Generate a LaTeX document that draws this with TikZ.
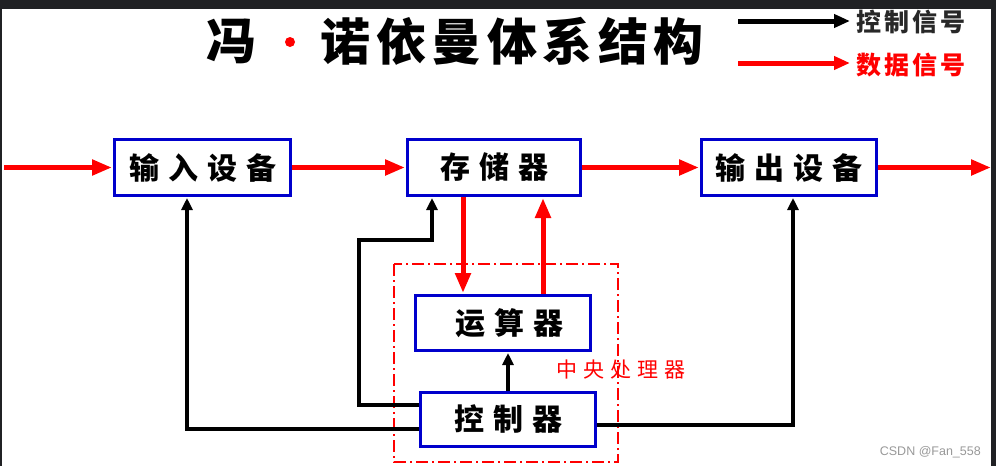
\documentclass[tikz,border=0pt]{standalone}
\usepackage{fontspec}
\setmainfont{Noto Sans CJK SC}
\newfontfamily\wmfont{Liberation Sans}
\usetikzlibrary{arrows.meta,calc}
\definecolor{bxblue}{RGB}{0,0,204}
\definecolor{framedark}{RGB}{32,33,36}
\definecolor{legendgray}{RGB}{40,40,40}
\newcommand\cgap{\hspace{9pt}}
\newcommand\sgap{\hspace{3pt}}
\newcommand\tgap{\hspace{5.5pt}}
\newcommand\pgap{\hspace{6pt}}
\tikzset{
  unitbox/.style={draw=bxblue, line width=3pt, fill=white, minimum width=176pt, minimum height=56pt, inner sep=0pt, font=\fontsize{30}{30}\selectfont\bfseries},
  databus/.style={draw=red, line width=5pt, -{Triangle[length=20pt,width=15pt]}, shorten >=1pt},
  ctlline/.style={draw=black, line width=4pt, -{Triangle[length=12pt,width=11pt]}, shorten >=1pt},
  cpubox/.style={draw=red, line width=1.3pt, dash pattern=on 12pt off 4pt on 2pt off 4pt},
  titletext/.style={font=\fontsize{50}{50}\selectfont\bfseries, inner sep=0pt},
}
\begin{document}
\begin{tikzpicture}[x=1pt,y=-1pt]
\useasboundingbox (0,0) rectangle (996,466);
\fill[framedark] (0,0) rectangle (996,466);
\fill[white] (2,9) rectangle (991,466);

% title
\node[titletext] (t1) at (231,41) {冯};
\fill[red] (290,42) circle (5pt);
\node[titletext] (t2) at (512,41) {诺\tgap 依\tgap 曼\tgap 体\tgap 系\tgap 结\tgap 构};

% legend
\coordinate (lga) at (738,21);
\coordinate (lgb) at (850,21);
\coordinate (lgc) at (738,63);
\coordinate (lgd) at (850,63);
\draw[draw=black, line width=5pt, -{Triangle[length=16pt,width=13pt]}] (lga) -- (lgb);
\draw[draw=red, line width=5pt, -{Triangle[length=16pt,width=13pt]}] (lgc) -- (lgd);
\node[anchor=west, inner sep=0pt, text=legendgray, font=\fontsize{25}{25}\selectfont\bfseries] (lg1) at (856,22) {控\sgap 制\sgap 信\sgap 号};
\node[anchor=west, inner sep=0pt, text=red, font=\fontsize{25}{25}\selectfont\bfseries] (lg2) at (856,65) {数\sgap 据\sgap 信\sgap 号};

% connector coordinates
\coordinate (lstart) at (4,167.5);
\coordinate (rend) at (992,167.5);
\coordinate (xdn) at (463,0);
\coordinate (xup) at (543,0);
\coordinate (k1) at (359,405);
\coordinate (k2) at (359,240);
\coordinate (k3) at (432,240);
\coordinate (m1) at (187,429);
\coordinate (n1) at (793,425);

% CPU region
\draw[cpubox] (394,264) rectangle (618,462);

% unit boxes
\node[unitbox] (in) at (202.5,167.5) {输\cgap 入\cgap 设\cgap 备};
\node[unitbox, minimum width=173pt] (mem) at (494,167.5) {存\cgap 储\cgap 器};
\node[unitbox, minimum width=175pt] (out) at (789,167.5) {输\cgap 出\cgap 设\cgap 备};
\node[unitbox, minimum width=175pt, minimum height=55pt] (alu) at (503,323) {\hspace{12pt}运\cgap 算\cgap 器};
\node[unitbox, minimum width=175pt, minimum height=54pt] (ctl) at (508,419.5) {控\cgap 制\cgap 器};

% control lines
\draw[ctlline] (ctl.west |- k1) -- (k1) -- (k2) -- (k3) -- (mem.south -| k3);
\draw[ctlline] (ctl.west |- m1) -- (m1) -- (in.south -| m1);
\draw[ctlline] (ctl.east |- n1) -- (n1) -- (out.south -| n1);
\draw[ctlline] (ctl.north) -- (alu.south -| ctl.north);

% data lines
\draw[databus] (lstart) -- (in.west);
\draw[databus] (in.east) -- (mem.west);
\draw[databus] (mem.east) -- (out.west);
\draw[databus] (out.east) -- (rend);
\draw[databus] (mem.south -| xdn) -- (alu.north -| xdn);
\draw[databus] (alu.north -| xup) -- (mem.south -| xup);

% CPU label
\node[anchor=west, inner sep=0pt, text=red, font=\fontsize{21}{21}\selectfont] (cpulabel) at (556,370) {中\pgap 央\pgap 处\pgap 理\pgap 器};

% watermark
\node[anchor=east, inner sep=0pt, text=gray!80, font=\wmfont\fontsize{12.5}{12.5}\selectfont] (wm) at (981,452) {CSDN @Fan\_558};
\end{tikzpicture}
\end{document}
